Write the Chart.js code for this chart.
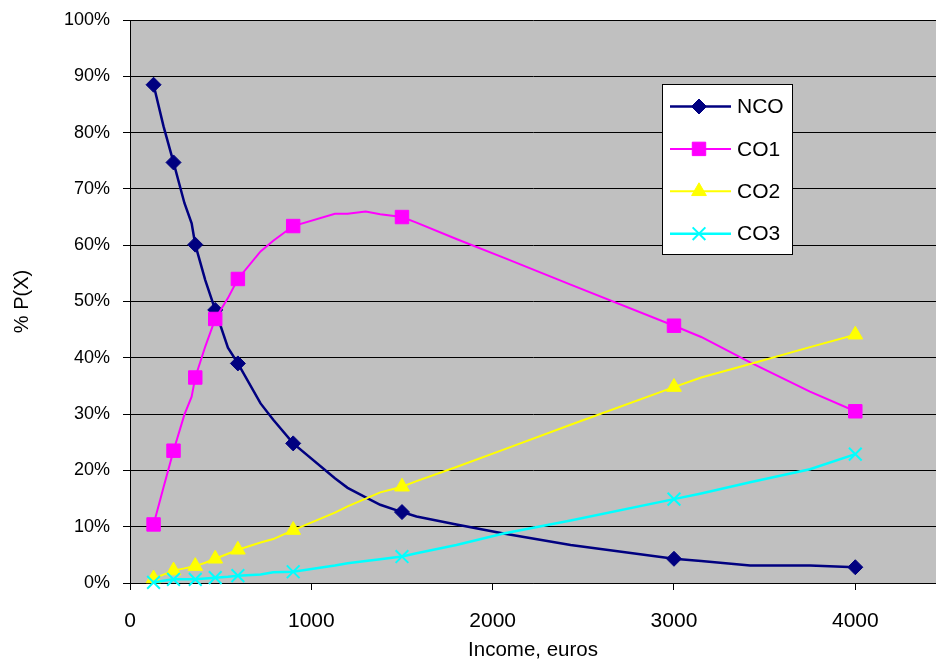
<!DOCTYPE html>
<html>
<head>
<meta charset="utf-8">
<script src="https://cdn.jsdelivr.net/npm/chart.js@4/dist/chart.umd.min.js"></script>
<style>
html, body { margin: 0; padding: 0; background: #fff; }
canvas { display: block; }
</style>
</head>
<body>
<canvas id="chart" width="936" height="664"></canvas>
<script>
// Income levels (euros) at which the probabilities were evaluated
const incomes = [130, 185, 240, 300, 340, 360, 415, 470, 540, 595, 720, 790, 900,
                 1130, 1200, 1300, 1380, 1500, 1580, 1800, 2060, 2430, 3000, 3150, 3420, 3750, 4000];

// Probability of each outcome, in percent
const nco = [88.5, 81.1, 74.7, 67.5, 63.9, 60.1, 53.8, 48.5, 41.8, 39.0, 31.9, 29.0, 24.8,
             18.6, 16.9, 15.2, 13.9, 12.6, 11.8, 10.4, 8.8, 6.75, 4.3, 3.9, 3.1, 3.1, 2.8];
const co1 = [10.4, 17.0, 23.5, 29.9, 33.1, 36.5, 42.0, 46.9, 50.6, 54.0, 58.9, 60.8, 63.4,
             65.6, 65.6, 66.0, 65.5, 65.0, 64.0, 61.1, 57.8, 53.0, 45.7, 43.7, 39.2, 34.0, 30.5];
const co2 = [0.8, 1.5, 2.2, 2.6, 2.9, 3.0, 3.6, 4.3, 5.2, 5.9, 7.2, 7.8, 9.4,
             12.5, 13.6, 15.0, 16.1, 17.1, 18.1, 20.6, 23.7, 28.1, 34.8, 36.5, 38.9, 41.9, 44.1];
const co3 = [0.1, 0.4, 0.65, 0.65, 0.65, 0.65, 0.8, 0.95, 1.1, 1.3, 1.5, 1.9, 2.0,
             3.1, 3.5, 3.9, 4.2, 4.7, 5.3, 6.75, 8.8, 11.1, 14.9, 15.9, 17.9, 20.2, 22.9];

// Incomes that carry a marker on every curve
const markerIncomes = [130, 240, 360, 470, 595, 900, 1500, 3000, 4000];

const seriesNames = ['NCO', 'CO1', 'CO2', 'CO3'];
const xTickValues = [0, 1000, 2000, 3000, 4000];
const yTickValues = [0, 10, 20, 30, 40, 50, 60, 70, 80, 90, 100];

const FONT = "'Liberation Sans', Arial, sans-serif";

const styles = [
  { color: '#000080', pointStyle: 'rectRot', radius: 7.5, width: 2.5, pointBorder: 1 },
  { color: '#ff00ff', pointStyle: 'rect', radius: 9.5, width: 2, pointBorder: 1 },
  { color: '#ffff00', pointStyle: 'triangle', radius: 8.5, width: 2, pointBorder: 1 },
  { color: '#00ffff', pointStyle: 'crossRot', radius: 9, width: 2.5, pointBorder: 2 }
];

const markerSet = new Set(markerIncomes);
const seriesValues = [nco, co1, co2, co3];

const datasets = seriesValues.map((vals, s) => {
  const st = styles[s];
  return {
    label: seriesNames[s],
    data: incomes.map((x, i) => ({ x: x, y: vals[i] })),
    borderColor: st.color,
    backgroundColor: st.color,
    borderWidth: st.width,
    tension: 0,
    pointStyle: st.pointStyle,
    pointRadius: ctx => markerSet.has(incomes[ctx.dataIndex]) ? st.radius : 0,
    pointHoverRadius: ctx => markerSet.has(incomes[ctx.dataIndex]) ? st.radius : 0,
    pointBorderWidth: st.pointBorder,
    pointBorderColor: st.color,
    pointBackgroundColor: st.color,
    clip: false,
    order: seriesValues.length - s
  };
});

// Grey plotting area
const plotBackground = {
  id: 'plotBackground',
  beforeDraw(chart) {
    const { ctx, chartArea: a } = chart;
    ctx.save();
    ctx.fillStyle = '#c0c0c0';
    ctx.fillRect(a.left, a.top, a.right - a.left, a.bottom - a.top);
    ctx.restore();
  }
};

// Boxed legend placed inside the plotting area
const boxedLegend = {
  id: 'boxedLegend',
  afterDraw(chart) {
    const { ctx, chartArea: a } = chart;
    const left = a.left + 532, top = a.top + 64, w = 130, h = 170;
    ctx.save();
    ctx.fillStyle = '#ffffff';
    ctx.fillRect(left, top, w, h);
    ctx.strokeStyle = '#000000';
    ctx.lineWidth = 1;
    ctx.strokeRect(left + 0.5, top + 0.5, w, h);
    chart.data.datasets.forEach((ds, i) => {
      const st = styles[i];
      const y = top + 22.5 + i * 42.4;
      ctx.strokeStyle = st.color;
      ctx.lineWidth = st.width;
      ctx.beginPath();
      ctx.moveTo(left + 8, y);
      ctx.lineTo(left + 69, y);
      ctx.stroke();
      ctx.fillStyle = st.color;
      ctx.lineWidth = st.pointBorder;
      Chart.helpers.drawPoint(ctx, {
        pointStyle: st.pointStyle, radius: st.radius, rotation: 0, borderWidth: st.pointBorder
      }, left + 37, y);
      ctx.fillStyle = '#000000';
      ctx.font = '21px ' + FONT;
      ctx.textBaseline = 'middle';
      ctx.textAlign = 'left';
      ctx.fillText(ds.label, left + 75, y + 1);
    });
    ctx.restore();
  }
};

new Chart(document.getElementById('chart'), {
  type: 'line',
  data: { datasets: datasets },
  options: {
    responsive: false,
    animation: false,
    devicePixelRatio: 1,
    layout: { autoPadding: false, padding: { top: 20, right: 0, bottom: 0, left: 0 } },
    plugins: {
      legend: { display: false },
      tooltip: { enabled: false }
    },
    scales: {
      x: {
        type: 'linear',
        min: 0,
        max: 4445,
        afterBuildTicks: scale => { scale.ticks = xTickValues.map(v => ({ value: v })); },
        afterFit: scale => {
          scale.height = 81;
          scale.paddingLeft = 0;
          scale.paddingRight = 0;
        },
        ticks: {
          color: '#000',
          font: { family: FONT, size: 21 },
          padding: 19,
          maxRotation: 0,
          callback: v => String(v)
        },
        grid: { drawOnChartArea: false, drawTicks: true, tickLength: 7, color: '#000' },
        border: { display: true, color: '#000', width: 1 },
        title: {
          display: true,
          text: 'Income, euros',
          color: '#000',
          font: { family: FONT, size: 20.5 },
          padding: { top: 1, bottom: 1 }
        }
      },
      y: {
        type: 'linear',
        min: 0,
        max: 100,
        afterBuildTicks: scale => { scale.ticks = yTickValues.map(v => ({ value: v })); },
        afterFit: scale => {
          scale.width = 130;
          scale.paddingTop = 0;
          scale.paddingBottom = 0;
        },
        ticks: {
          color: '#000',
          font: { family: FONT, size: 18 },
          padding: 13,
          callback: v => v + '%'
        },
        grid: { drawOnChartArea: true, drawTicks: true, tickLength: 7, color: '#000', lineWidth: 1 },
        border: { display: true, color: '#000', width: 1 },
        title: {
          display: true,
          text: '% P(X)',
          color: '#000',
          font: { family: FONT, size: 20 },
          padding: { top: 10, bottom: 10 }
        }
      }
    }
  },
  plugins: [plotBackground, boxedLegend]
});
</script>
</body>
</html>
